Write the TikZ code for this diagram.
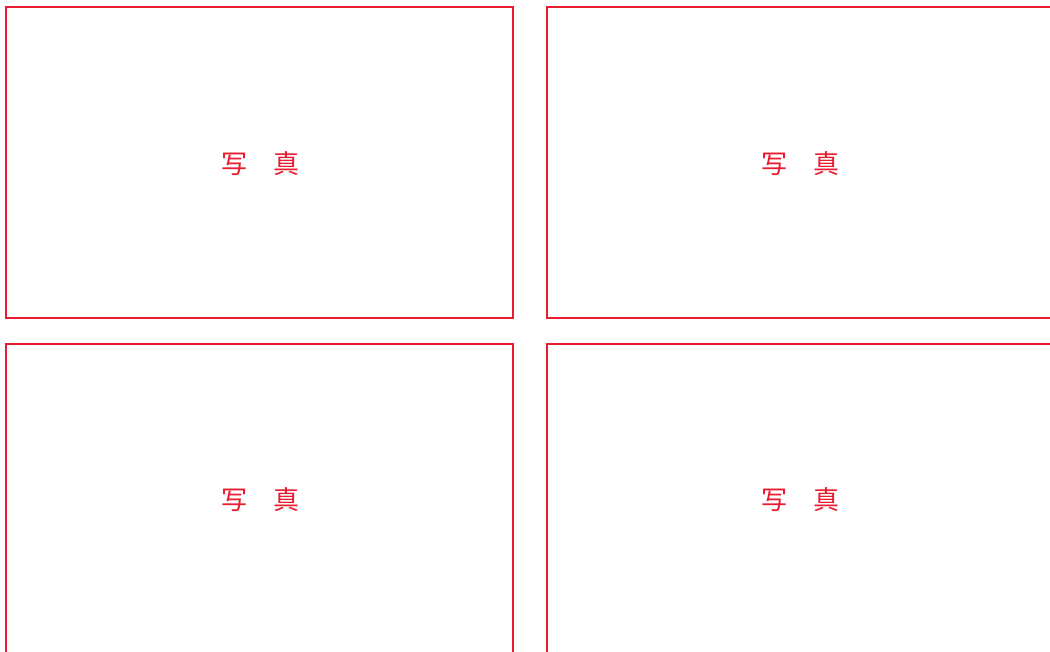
\documentclass[tikz,border=0pt]{standalone}
\usepackage{fontspec}
\newfontfamily\cjk{Noto Sans CJK JP}
\definecolor{photored}{RGB}{232,28,46}
\tikzset{
  photobox/.style={draw=photored,line width=2pt},
  photolabel/.style={text=photored,font=\cjk\fontsize{26}{26}\selectfont,inner sep=0pt}
}
\begin{document}
\begin{tikzpicture}[x=1pt,y=1pt]
   \useasboundingbox (0,0) rectangle (1050,651);
   \clip (0,0) rectangle (1050,651);
   \fill[white] (0,0) rectangle (1050,651);

   \draw[photobox] (6,644) rectangle (513,333);
   \draw[photobox] (547,644) rectangle (1070,333);
   \draw[photobox] (6,307) rectangle (513,-20);
   \draw[photobox] (547,307) rectangle (1070,-20);

   \node[photolabel] (tl) at (260,487) {写　真};
   \node[photolabel] (tr) at (800,487) {写　真};
   \node[photolabel] (bl) at (260,151) {写　真};
   \node[photolabel] (br) at (800,151) {写　真};

 \end{tikzpicture}
\end{document}
